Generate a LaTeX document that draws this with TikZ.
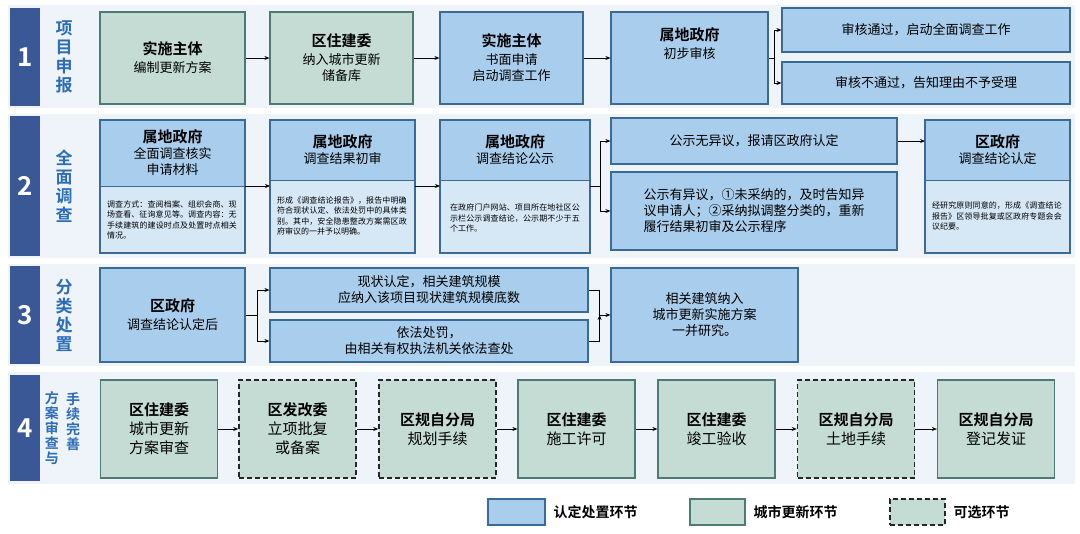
\documentclass[tikz,border=0pt]{standalone}
\usepackage{fontspec}
\setmainfont{Noto Sans CJK SC}
\newfontfamily\cjkb{Noto Sans CJK SC Bold}
\XeTeXlinebreaklocale "zh"
\XeTeXlinebreakskip=0pt plus 1pt
\usetikzlibrary{arrows.meta,calc}
\definecolor{bfill}{HTML}{A9CDEC}
\definecolor{blite}{HTML}{D6E7F6}
\definecolor{bdraw}{HTML}{3C6A96}
\definecolor{gfill}{HTML}{C5DCD5}
\definecolor{gdraw}{HTML}{4D7A72}
\definecolor{band}{HTML}{EEF4FA}
\definecolor{numc}{HTML}{3A5896}
\definecolor{labc}{HTML}{2C6DB8}
\newcommand\tb{\cjkb\fontsize{15}{21}\selectfont}
\newcommand\tr{\normalfont\fontsize{13}{16}\selectfont}
\newcommand\trr{\normalfont\fontsize{15}{19}\selectfont}
\begin{document}
\begin{tikzpicture}[x=1pt,y=-1pt,
 bx/.style={draw=bdraw,line width=1.2pt,fill=bfill,align=center,inner sep=2pt,font=\tr},
 gx/.style={draw=gdraw,line width=1.2pt,fill=gfill,align=center,inner sep=2pt,font=\tr},
 dx/.style={draw=black!85,line width=1.5pt,dash pattern=on 5pt off 3pt,fill=gfill,align=center,inner sep=2pt,font=\tr},
 ar/.style={-{Stealth[length=5pt,width=4pt]},line width=0.8pt,black},
 s/.style={font=\fontsize{13}{16}\selectfont},
 sm/.style={font=\fontsize{8}{10.5}\selectfont,align=left,text width=132pt},
 num/.style={fill=numc,text=white,font=\cjkb\fontsize{26}{26}\selectfont,minimum width=30pt,anchor=north west},
 lab/.style={text=labc,font=\cjkb\fontsize{17}{19}\selectfont,align=center}
]
\useasboundingbox (0,0) rectangle (1080,534);
\fill[white] (0,0) rectangle (1080,534);
\foreach \a/\b in {5/108,114/258,264/366,372/484}{\fill[band] (8,\a) rectangle (1075,\b);}
\node[num,minimum height=98pt] (n1) at (10,8) {1};
\node[num,minimum height=140pt] (n2) at (10,116) {2};
\node[num,minimum height=98pt] (n3) at (10,266) {3};
\node[num,minimum height=106pt] (n4) at (10,375) {4};
\node[lab] (l1) at (64,57) {项\\目\\申\\报};
\node[lab] (l2) at (64,186) {全\\面\\调\\查};
\node[lab] (l3) at (64,315) {分\\类\\处\\置};
\node[lab,font=\cjkb\fontsize{14}{15}\selectfont] (l4a) at (52,428) {方\\案\\审\\查\\与};
\node[lab,font=\cjkb\fontsize{14}{15}\selectfont] (l4b) at (73,422) {手\\续\\完\\善};
% row 1
\node[gx,minimum width=145pt,minimum height=92pt] (a1) at (172.5,58) {\tb 实施主体\\[2pt]编制更新方案};
\node[gx,minimum width=143pt,minimum height=92pt] (a2) at (341.5,58) {\tb 区住建委\\[2pt]纳入城市更新\\储备库};
\node[bx,minimum width=143pt,minimum height=92pt] (a3) at (511.5,58) {\tb 实施主体\\[2pt]书面申请\\启动调查工作};
\node[bx,minimum width=157pt,minimum height=92pt] (a4) at (689.5,58) {\tb 属地政府\\[2pt]初步审核\\[14pt]};
\node[bx,s,minimum width=288pt,minimum height=44pt] (a5) at (926,30) {审核通过，启动全面调查工作};
\node[bx,s,minimum width=288pt,minimum height=42pt] (a6) at (926,83) {审核不通过，告知理由不予受理};
\draw[ar] (a1) -- (a2); \draw[ar] (a2) -- (a3); \draw[ar] (a3) -- (a4);
\draw[ar] (a4.east) -- ++(6,0) coordinate (m1) |- (a5.west);
\draw[ar] (m1) |- (a6.west);
% row 2
\foreach \n/\xa/\xb/\hb/\ti/\su in {b1/100/245/186/属地政府/全面调查核实\\申请材料, b2/270/415/180/属地政府/调查结果初审, b3/440/590/180/属地政府/调查结论公示, b5/925/1070/180/区政府/调查结论认定}{
 \fill[blite] (\xa,\hb) rectangle (\xb,253);
 \fill[bfill] (\xa,120) rectangle (\xb,\hb);
 \draw[bdraw,line width=0.6pt] (\xa,\hb) -- (\xb,\hb);
 \draw[bdraw,line width=1.2pt] (\xa,120) rectangle (\xb,253);
 \coordinate (\n) at ($(\xa,186)!0.5!(\xb,186)$);
 \node[align=center,font=\tr] (\n t) at ($(\xa,120)!0.5!(\xb,\hb)$) {\tb \ti\\\su};
}
\node[sm] (b1x) at (173,220) {调查方式：查阅档案、组织会商、现场查看、征询意见等。调查内容：无手续建筑的建设时点及处置时点相关情况。};
\node[sm] (b2x) at (343,216) {形成《调查结论报告》，报告中明确符合现状认定、依法处罚中的具体类别。其中，安全隐患整改方案需区政府审议的一并予以明确。};
\node[sm] (b3x) at (516,218) {在政府门户网站、项目所在地社区公示栏公示调查结论，公示期不少于五个工作。};
\node[sm] (b5x) at (998,216) {经研究原则同意的，形成《调查结论报告》区领导批复或区政府专题会会议纪要。};
\node[bx,s,minimum width=286pt,minimum height=46pt] (b4a) at (754,141) {公示无异议，报请区政府认定};
\node[bx,s,minimum width=286pt,minimum height=78pt,align=left] (b4b) at (754,211) {公示有异议，①未采纳的，及时告知异\\议申请人；②采纳拟调整分类的，重新\\履行结果初审及公示程序};
\draw[ar] (245,186) -- (270,186); \draw[ar] (415,186) -- (440,186);
\draw[ar] (590,186) -- (600,186) coordinate (m2) |- (b4a.west);
\draw[ar] (m2) |- (b4b.west);
\draw[ar] (b4a.east) -- (925,141);
% row 3
\node[bx,minimum width=145pt,minimum height=94pt] (c1) at (172.5,315) {\tb 区政府\\[2pt]调查结论认定后};
\node[bx,s,minimum width=318pt,minimum height=44pt] (c2) at (429,290) {现状认定，相关建筑规模\\应纳入该项目现状建筑规模底数};
\node[bx,s,minimum width=318pt,minimum height=42pt] (c3) at (429,341) {依法处罚，\\由相关有权执法机关依法查处};
\node[bx,s,minimum width=187pt,minimum height=94pt] (c4) at (704.5,315) {相关建筑纳入\\城市更新实施方案\\一并研究。};
\draw[ar] (c1.east) -- ++(12,0) coordinate (m3) |- (c2.west);
\draw[ar] (m3) |- (c3.west);
\draw[ar] (c2.east) -- ++(11,0) coordinate (m4) -- (m4|-c4.west) -- (c4.west);
\draw[ar] (c3.east) -- ++(11,0) -- (m4|-c4.west);
% row 4
\foreach \n/\x/\st/\ti/\su in {d1/159/gx/区住建委/城市更新\\方案审查, d2/297.5/dx/区发改委/立项批复\\或备案, d3/437.5/dx/区规自分局/规划手续, d4/576.5/gx/区住建委/施工许可, d5/716.5/gx/区住建委/竣工验收, d6/856/dx/区规自分局/土地手续, d7/996/gx/区规自分局/登记发证}{
 \node[\st,font=\trr,minimum width=117pt,minimum height=98pt] (\n) at (\x,429) {\tb \ti\\\su};
}
\draw[ar] (d1) -- (d2); \draw[ar] (d2) -- (d3); \draw[ar] (d3) -- (d4);
\draw[ar] (d4) -- (d5); \draw[ar] (d5) -- (d6); \draw[ar] (d6) -- (d7);
% legend
\node[bx,minimum width=57pt,minimum height=26pt] (k1) at (516.5,512) {};
\node[anchor=west,font=\cjkb\fontsize{14}{16}\selectfont] (k1t) at (550,512) {认定处置环节};
\node[gx,minimum width=55pt,minimum height=26pt] (k2) at (717.5,512) {};
\node[anchor=west,font=\cjkb\fontsize{14}{16}\selectfont] (k2t) at (750,512) {城市更新环节};
\node[dx,minimum width=55pt,minimum height=26pt] (k3) at (917.5,512) {};
\node[anchor=west,font=\cjkb\fontsize{14}{16}\selectfont] (k3t) at (950,512) {可选环节};
\end{tikzpicture}
\end{document}
